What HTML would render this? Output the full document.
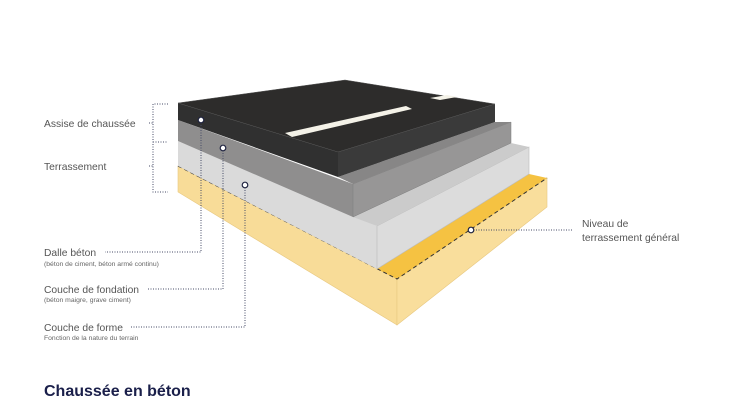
<!DOCTYPE html>
<html><head><meta charset="utf-8"><style>
html,body{margin:0;padding:0;background:#fff;width:740px;height:416px;overflow:hidden}
svg{display:block}
text{font-family:"Liberation Sans",sans-serif}
</style></head><body>
<svg width="740" height="416" viewBox="0 0 740 416" xmlns="http://www.w3.org/2000/svg">
<polygon points="178,166 397,279 397,325 178,192" fill="#f8dc98" stroke="#e8c880" stroke-width="0.6"/>
<polygon points="397,279 547,178 547,207 397,325" fill="#f9de9c" stroke="#e8c880" stroke-width="0.6"/>
<polygon points="377,269 529,174 547,178 397,279" fill="#f5c242"/>
<polyline points="178,166 397,279 547,178" fill="none" stroke="#333" stroke-width="1" stroke-dasharray="4,3"/>
<polygon points="178,141 377,226 377,269 178,166" fill="#dadada"/>
<polygon points="377,226 529,147 529,174 377,269" fill="#dcdcdc" stroke="#bbb" stroke-width="0.6"/>
<polygon points="353,217 511,143 529,147 377,226" fill="#cbcbcb"/>
<polygon points="178,120 353,184 353,217 178,141" fill="#8f8e8e"/>
<polygon points="353,184 511,122 511,143 353,217" fill="#979696" stroke="#7d7d7d" stroke-width="0.5"/>
<polygon points="338,177 495,122 511,122 353,184" fill="#878686"/>
<polygon points="178,103 338,152 338,177 178,120" fill="#303030"/>
<polygon points="338,152 495,104 495,122 338,177" fill="#3a3a3a"/>
<polygon points="178,103 345,80 495,104 338,152" fill="#2d2c2b" stroke="#555" stroke-width="0.5"/>
<polygon points="285,133 406,106 412,109 292,137" fill="#f4f2e8"/>
<polygon points="430,98 447,95 457,97 440,100" fill="#f4f2e8"/>
<g stroke="#444a66" stroke-width="1" stroke-dasharray="1,1.5" fill="none">
<polyline points="168,104 153,104 153,192 168,192"/>
<line x1="153" y1="142" x2="168" y2="142"/>
<line x1="149" y1="123" x2="153" y2="123"/>
<line x1="149" y1="166" x2="153" y2="166"/>
<polyline points="201,120 201,252 105,252"/>
<polyline points="223,148 223,289 148,289"/>
<polyline points="245,185 245,327 130,327"/>
<line x1="471" y1="230" x2="573" y2="230"/>
</g>
<g fill="#fff" stroke="#1f2340" stroke-width="1.2">
<circle cx="201" cy="120" r="2.8"/><circle cx="223" cy="148" r="2.8"/><circle cx="245" cy="185" r="2.8"/><circle cx="471" cy="230" r="2.8"/>
</g>
<g fill="#555" font-size="10.3">
<text x="44" y="127">Assise de chaussée</text>
<text x="44" y="170">Terrassement</text>
<text x="44" y="256">Dalle béton</text>
<text x="44" y="293">Couche de fondation</text>
<text x="44" y="331">Couche de forme</text>
<text x="582" y="227">Niveau de</text>
<text x="582" y="241">terrassement général</text>
</g>
<g fill="#666" font-size="6.8">
<text x="44" y="266">(béton de ciment, béton armé continu)</text>
<text x="44" y="302">(béton maigre, grave ciment)</text>
<text x="44" y="340">Fonction de la nature du terrain</text>
</g>
<text x="44" y="396" font-size="16" font-weight="bold" fill="#1a1f4a">Chaussée en béton</text>
</svg>
</body></html>
